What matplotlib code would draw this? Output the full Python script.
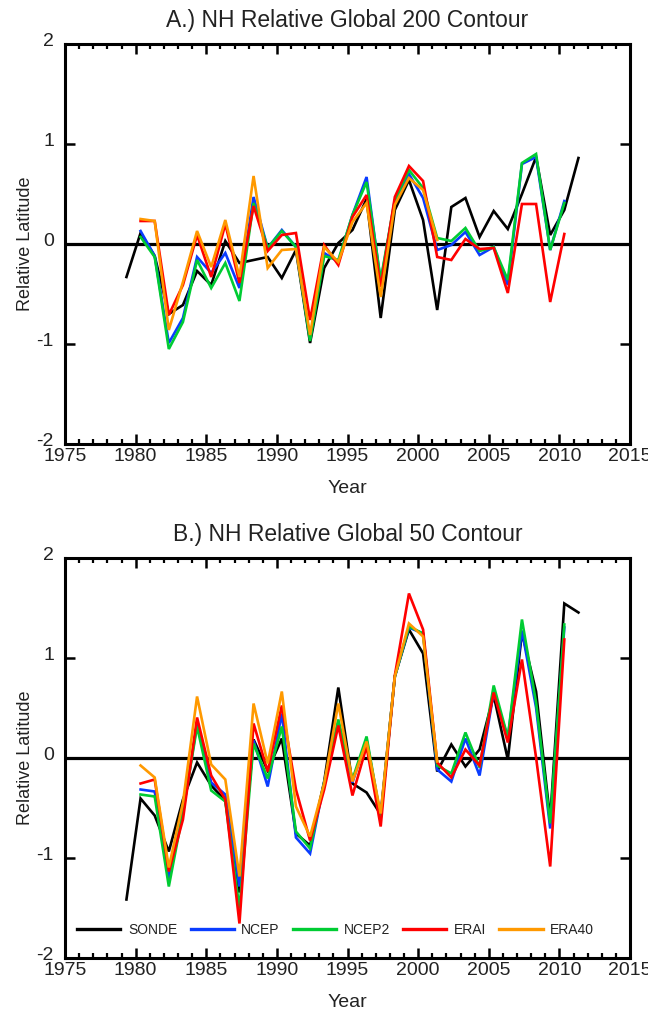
import numpy as np
import matplotlib
matplotlib.use("Agg")
import matplotlib.pyplot as plt
import matplotlib.transforms as mtransforms
from matplotlib.ticker import MultipleLocator

plt.rcParams['font.family'] = ['Liberation Sans', 'DejaVu Sans']
plt.rcParams['axes.unicode_minus'] = False

# ---------------- data ----------------
years_sonde = list(range(1979, 2012))
years_rean = list(range(1980, 2011))
years_era40 = list(range(1980, 2002))

# Panel A: 200 contour
a_sonde = [-0.33, 0.11, -0.12, -0.70, -0.61, -0.27, -0.41, 0.03, -0.19, -0.16,
           -0.13, -0.34, -0.06, -0.99, -0.24, 0.01, 0.14, 0.45, -0.74, 0.34,
           0.64, 0.24, -0.66, 0.37, 0.46, 0.07, 0.33, 0.15, 0.50, 0.87,
           0.09, 0.34, 0.86]
a_ncep = [0.13, -0.12, -0.99, -0.74, -0.13, -0.29, -0.09, -0.44, 0.47, -0.04,
          0.14, -0.03, -0.95, -0.09, -0.18, 0.29, 0.67, -0.38, 0.43, 0.70,
          0.46, -0.06, -0.01, 0.12, -0.11, -0.03, -0.41, 0.80, 0.87, -0.06,
          0.43]
a_ncep2 = [0.07, -0.13, -1.05, -0.78, -0.16, -0.44, -0.19, -0.57, 0.41, -0.04,
           0.13, -0.03, -0.97, -0.12, -0.16, 0.29, 0.62, -0.36, 0.44, 0.74,
           0.56, 0.06, 0.03, 0.16, -0.07, -0.03, -0.36, 0.81, 0.90, -0.06,
           0.41]
a_erai = [0.23, 0.23, -0.71, -0.41, 0.09, -0.33, 0.20, -0.39, 0.38, -0.07,
          0.09, 0.11, -0.76, -0.01, -0.21, 0.27, 0.49, -0.43, 0.47, 0.78,
          0.63, -0.13, -0.16, 0.05, -0.05, -0.04, -0.49, 0.40, 0.40, -0.58,
          0.10]
a_era40 = [0.25, 0.23, -0.86, -0.38, 0.13, -0.23, 0.24, -0.33, 0.68, -0.24,
           -0.06, -0.05, -0.91, -0.03, -0.18, 0.22, 0.41, -0.53, 0.39, 0.66,
           0.54, 0.04]

# Panel B: 50 contour
b_sonde = [-1.42, -0.41, -0.58, -0.94, -0.42, -0.05, -0.28, -0.43, -1.35, 0.18,
           -0.13, 0.19, -0.76, -0.88, -0.24, 0.70, -0.26, -0.35, -0.57, 0.81,
           1.28, 1.04, -0.14, 0.13, -0.09, 0.08, 0.62, -0.02, 1.25, 0.66,
           -0.62, 1.54, 1.45]
b_ncep = [-0.32, -0.34, -1.22, -0.55, 0.34, -0.25, -0.37, -1.29, 0.17, -0.29,
          0.44, -0.80, -0.96, -0.25, 0.35, -0.25, 0.18, -0.60, 0.81, 1.30,
          1.24, -0.12, -0.24, 0.19, -0.18, 0.65, 0.20, 1.27, 0.50, -0.71,
          1.30]
b_ncep2 = [-0.37, -0.39, -1.29, -0.55, 0.31, -0.33, -0.44, -1.51, 0.14, -0.21,
           0.31, -0.74, -0.91, -0.25, 0.38, -0.22, 0.21, -0.60, 0.81, 1.31,
           1.24, -0.08, -0.16, 0.25, -0.10, 0.72, 0.20, 1.38, 0.55, -0.66,
           1.33]
b_erai = [-0.26, -0.22, -1.14, -0.62, 0.40, -0.18, -0.42, -1.66, 0.34, -0.14,
          0.52, -0.32, -0.83, -0.32, 0.32, -0.38, 0.11, -0.69, 0.82, 1.64,
          1.28, -0.05, -0.20, 0.08, -0.08, 0.65, 0.15, 0.98, 0.00, -1.09,
          1.18]
b_era40 = [-0.08, -0.20, -1.10, -0.45, 0.61, -0.07, -0.22, -1.19, 0.54, -0.06,
           0.66, -0.49, -0.79, -0.26, 0.54, -0.24, 0.16, -0.56, 0.81, 1.34,
           1.21, -0.04]

names = ['SONDE', 'NCEP', 'NCEP2', 'ERAI', 'ERA40']
colors = ['#000000', '#0a3cff', '#00cc33', '#ff0000', '#ff9900']
titles = ['A.) NH Relative Global 200 Contour', 'B.) NH Relative Global 50 Contour']
x_offset = 0.35  # points plotted within the year

fig = plt.figure(figsize=(6.48, 10.11), dpi=100)
W, H = 648, 1011
left, right = 65, 630
tops = [44, 557.5]
ph = 400

panels = [
    [(years_sonde, a_sonde), (years_rean, a_ncep), (years_rean, a_ncep2),
     (years_rean, a_erai), (years_era40, a_era40)],
    [(years_sonde, b_sonde), (years_rean, b_ncep), (years_rean, b_ncep2),
     (years_rean, b_erai), (years_era40, b_era40)],
]

txtc = '#222222'
lift = mtransforms.ScaledTranslation(0, 3 / 72, fig.dpi_scale_trans)
for i, series in enumerate(panels):
    top = tops[i]
    ax = fig.add_axes([left / W, 1 - (top + ph) / H, (right - left) / W, ph / H])
    ax.axhline(0, color='black', lw=2.3, zorder=1)
    handles = []
    for (yrs, vals), name, c in zip(series, names, colors):
        h, = ax.plot(np.array(yrs) + x_offset, vals, color=c, lw=1.9,
                     label=name, solid_joinstyle='miter', zorder=2)
        handles.append(h)
    ax.set_xlim(1975, 2015)
    ax.set_ylim(-2, 2)
    ax.xaxis.set_major_locator(MultipleLocator(5))
    ax.xaxis.set_minor_locator(MultipleLocator(1))
    ax.yaxis.set_major_locator(MultipleLocator(1))
    ax.tick_params(axis='both', which='both', direction='in', top=True,
                   right=True, colors='black', labelcolor=txtc)
    ax.tick_params(axis='both', which='major', length=7, width=1.8, labelsize=14)
    ax.tick_params(axis='x', which='minor', length=3.5, width=1.6)
    ax.tick_params(axis='x', which='major', pad=3)
    ax.tick_params(axis='y', which='major', pad=8)
    for lab in ax.yaxis.get_majorticklabels():
        lab.set_transform(lab.get_transform() + lift)
    for s in ax.spines.values():
        s.set_linewidth(2.2)
    ax.set_xlabel('Year', fontsize=14, color=txtc, labelpad=11)
    ax.set_ylabel('Relative Latitude', fontsize=13, color=txtc, labelpad=2)
    ax.set_title(titles[i], fontsize=16.5, color=txtc, pad=12)
    if i == 1:
        leg = ax.legend(handles=handles, loc='center left',
                        bbox_to_anchor=(0.022, 0.069), ncol=5, frameon=False,
                        fontsize=10, handlelength=3.1, handletextpad=0.55,
                        columnspacing=0.95, borderpad=0, borderaxespad=0)
        for t in leg.get_texts():
            t.set_color(txtc)
        for l in leg.get_lines():
            l.set_linewidth(2.4)

fig.savefig('out.png', dpi=100)
